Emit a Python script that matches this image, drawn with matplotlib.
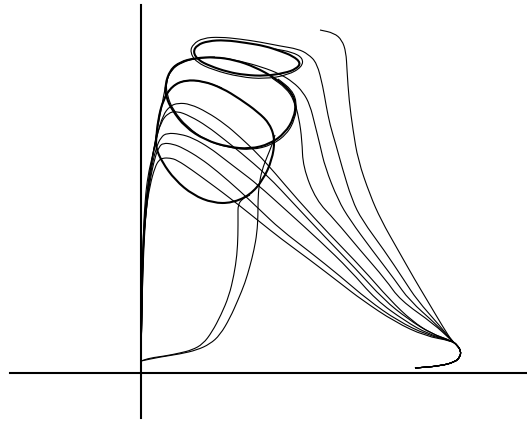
import matplotlib
matplotlib.use("Agg")
import matplotlib.pyplot as plt
import numpy as np
from matplotlib.patches import PathPatch
from matplotlib.path import Path

# hook near the x-axis that every fan trajectory passes through
fan_tail = [(274, 5), (299, 7), (314, 11), (319, 16), (320, 22), (316, 28), (311, 32)]

# fan trajectories, listed outward from the hook
traj_a = [(302, 46), (286, 73), (274, 93), (257, 123), (240, 153), (229, 178), (217, 213),
          (212, 243), (208, 273), (206, 303), (205, 321), (201, 333), (193, 340), (179, 343)]
traj_b = [(299, 47), (276, 73), (263, 93), (243, 123), (221, 153), (211, 173), (201, 206),
          (195, 228), (189, 248), (185, 268), (182, 286), (176, 310), (167, 319), (157, 324),
          (139, 327), (119, 331), (99, 334), (79, 336), (62, 335), (52, 329), (49, 321),
          (55, 311), (72, 303), (99, 296), (124, 294), (147, 298), (161, 306), (162, 315),
          (151, 321), (134, 324)]
traj_c = [(296, 48), (268, 73), (254, 93), (231, 123), (209, 153), (197, 173), (184, 206),
          (179, 228), (174, 248), (169, 268), (162, 281), (152, 291), (139, 299), (121, 306),
          (99, 312), (77, 316), (57, 315), (41, 311), (30, 303), (25, 291), (26, 278),
          (32, 263), (46, 246), (66, 232), (89, 225), (111, 223), (131, 228), (146, 239),
          (154, 254), (156, 270), (151, 283), (137, 294)]
traj_d = [(293, 49), (259, 73), (245, 93), (219, 123), (194, 153), (175, 173), (162, 206),
          (161, 233), (158, 255), (153, 273), (145, 285), (131, 295)]

# humped trajectories running from the hook back down to the origin
hump_1 = [(291, 39), (271, 52), (249, 73), (221, 105), (189, 138), (156, 174), (134, 200),
          (116, 220), (99, 236), (84, 249), (66, 261), (49, 269), (37, 270), (29, 267),
          (22, 258), (16, 238), (11, 213), (7, 188), (4, 163), (2, 133), (1, 93), (0.5, 53), (0, 11)]
hump_2 = [(289, 40), (267, 54), (243, 73), (214, 105), (184, 136), (154, 168), (126, 198),
          (99, 221), (84, 233), (66, 247), (49, 257), (36, 262), (27, 260), (20, 251),
          (14, 231), (9, 203), (6, 178), (4, 153), (2, 123), (1, 83), (0.5, 43), (0, 11)]
hump_3 = [(287, 39), (264, 52), (235, 73), (209, 103), (179, 132), (146, 162), (116, 189),
          (99, 202), (82, 215), (69, 225), (52, 235), (39, 239), (26, 240), (20, 236),
          (15, 225), (10, 203), (6, 173), (3, 133), (1, 73), (0, 11)]
hump_4 = [(286, 38), (257, 52), (227, 73), (199, 97), (169, 121), (139, 144), (119, 163),
          (99, 182), (76, 202), (59, 215), (42, 225), (32, 229), (22, 230), (18, 226),
          (14, 216), (9, 193), (5, 163), (2, 123), (1, 73), (0, 11)]
hump_5 = [(284, 37), (254, 51), (221, 73), (199, 90), (169, 113), (139, 135), (119, 151),
          (99, 167), (81, 181), (66, 192), (51, 203), (36, 213), (29, 215), (22, 215),
          (18, 213), (14, 206), (9, 188), (5, 163), (2, 123), (1, 73), (0, 11)]

# trajectories leaving the origin straight up into the lower cycles
rise_1 = [(0, 11), (1, 73), (2, 133), (4, 173), (7, 198), (11, 215), (15, 233), (17, 253),
          (22, 273), (31, 287), (44, 293), (62, 292), (81, 285)]
rise_2 = [(0, 11), (1, 73), (3, 143), (6, 183), (11, 213), (17, 248), (21, 268), (24, 285),
          (29, 303), (39, 311), (54, 315), (74, 316)]

# trajectories leaving the origin along the x-axis first
low_1 = [(0, 12), (9, 15), (24, 17), (39, 20), (51, 23), (62, 29), (71, 41), (80, 58),
         (88, 77), (93, 98), (96, 118), (97, 138), (97, 158), (97, 168), (101, 174), (109, 178)]
low_2 = [(0, 12), (19, 16), (39, 19), (56, 23), (69, 29), (79, 38), (89, 55), (97, 73),
         (104, 90), (109, 107), (113, 123), (116, 140), (117, 158), (117, 173), (118, 188),
         (121, 203), (126, 216), (131, 228), (134, 238)]

# limit cycles, top to bottom
cycle_top = [(52, 321), (56, 328), (67, 332), (84, 333), (106, 330), (124, 327), (139, 322),
             (152, 317), (160, 310), (155, 304), (144, 300), (124, 297), (104, 298), (87, 301),
             (69, 307), (57, 313)]
cycle_mid = [(24, 288), (29, 303), (39, 311), (54, 315), (74, 316), (94, 313), (114, 306),
             (134, 295), (149, 283), (155, 270), (153, 255), (144, 240), (129, 229), (109, 224),
             (87, 226), (64, 233), (44, 246), (31, 263), (25, 276)]
cycle_low = [(15, 233), (17, 253), (22, 273), (31, 287), (44, 293), (62, 292), (81, 285),
             (99, 274), (117, 261), (129, 249), (134, 233), (131, 213), (122, 193), (109, 178),
             (91, 170), (72, 170), (52, 178), (34, 193), (21, 211), (15, 225)]


def smooth_path(points, closed=False):
    # quadratic segments through the midpoints, traced points act as controls
    pts = np.asarray(points, dtype=float)
    if closed:
        mids = (pts + np.roll(pts, -1, axis=0)) / 2
        verts = [mids[-1]]
        codes = [Path.MOVETO]
        for p, m in zip(pts, mids):
            verts += [p, m]
            codes += [Path.CURVE3, Path.CURVE3]
        return Path(verts, codes)
    mids = (pts[:-1] + pts[1:]) / 2
    verts = [pts[0], mids[0]]
    codes = [Path.MOVETO, Path.LINETO]
    for i in range(1, len(pts) - 1):
        verts += [pts[i], mids[i]]
        codes += [Path.CURVE3, Path.CURVE3]
    verts.append(pts[-1])
    codes.append(Path.LINETO)
    return Path(verts, codes)


fig = plt.figure(figsize=(5.27, 4.21), dpi=100)
ax = fig.add_axes([10 / 527, 3 / 421, 517 / 527, 413 / 421])
ax.set_xlim(-131, 386)
ax.set_ylim(-45, 368)

for curve in [traj_a, traj_b, traj_c, traj_d, hump_1, hump_2, hump_3, hump_4, hump_5]:
    pts = np.vstack([fan_tail, curve])
    ax.add_patch(PathPatch(smooth_path(pts), fill=False, edgecolor="black", lw=0.8))

for curve in [rise_1, rise_2, low_1, low_2]:
    ax.add_patch(PathPatch(smooth_path(curve), fill=False, edgecolor="black", lw=0.8))

for cycle in [cycle_top, cycle_mid, cycle_low]:
    ax.add_patch(PathPatch(smooth_path(cycle, closed=True), fill=False, edgecolor="black", lw=1.5))

ax.spines["left"].set_position(("data", 0))
ax.spines["bottom"].set_position(("data", 0))
ax.spines["left"].set_linewidth(1.5)
ax.spines["bottom"].set_linewidth(1.5)
ax.spines["top"].set_visible(False)
ax.spines["right"].set_visible(False)
ax.set_xticks([])
ax.set_yticks([])

fig.savefig("out.png", dpi=100)
